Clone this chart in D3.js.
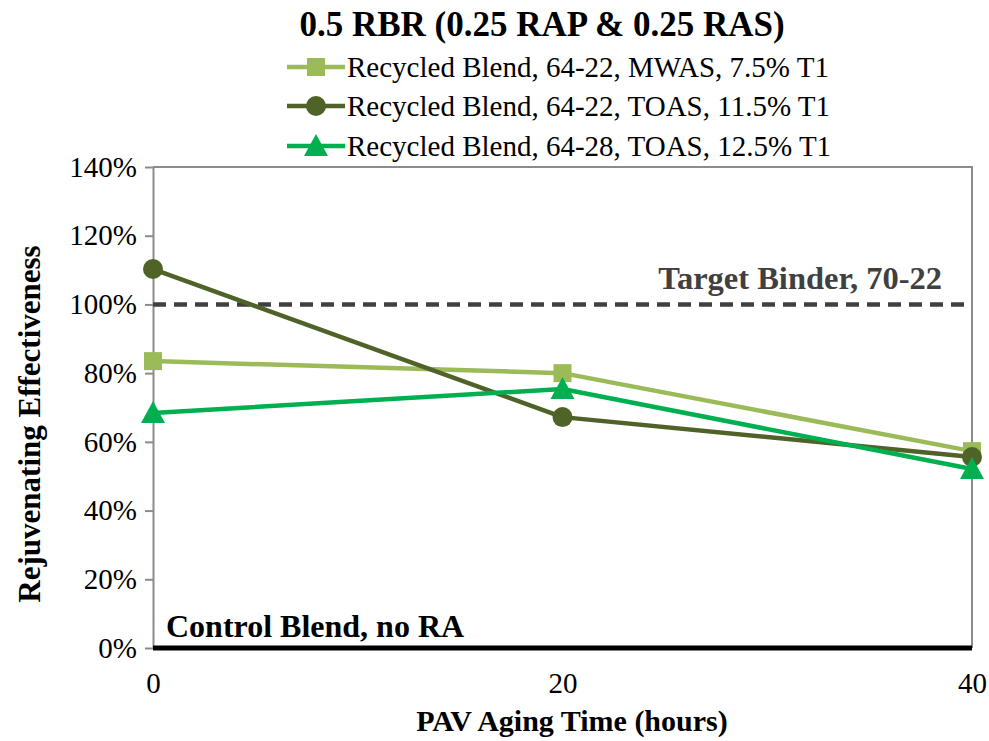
<!DOCTYPE html>
<html>
<head>
<meta charset="utf-8">
<script src="https://cdn.jsdelivr.net/npm/d3@7"></script>
<style>
  body { margin: 0; background: #fff; }
  svg { font-family: "Liberation Serif", "Times New Roman", serif; }
</style>
</head>
<body>
<svg id="chart" width="989" height="741"></svg>
<script>
// Aging time (hours) on the x axis
const agingHours = [0, 20, 40];
// Rejuvenating effectiveness (%) per blend
const mwas6422 = [83.5, 80.0, 57.3];
const toas6422 = [110.3, 67.2, 55.6];
const toas6428 = [68.4, 75.4, 52.1];
const seriesNames = [
  "Recycled Blend, 64-22, MWAS, 7.5% T1",
  "Recycled Blend, 64-22, TOAS, 11.5% T1",
  "Recycled Blend, 64-28, TOAS, 12.5% T1"
];
const seriesColors = ["#9BBB59", "#4F6228", "#00B050"];
const seriesMarkers = ["square", "circle", "triangle"];
const yTicks = [0, 20, 40, 60, 80, 100, 120, 140];
const xTicks = [0, 20, 40];
const targetValue = 100;
const controlValue = 0;

const svg = d3.select("#chart");
const m = { left: 153, right: 972, top: 167, bottom: 648 };

const x = d3.scaleLinear().domain([0, 40]).range([m.left, m.right]);
const y = d3.scaleLinear().domain([0, 140]).range([m.bottom, m.top]);

// Plot frame: gray top and right edges
svg.append("path")
  .attr("d", `M${m.left},${m.top}H${m.right}V${m.bottom}`)
  .attr("fill", "none").attr("stroke", "#8c8c8c").attr("stroke-width", 2);

// Y axis with outward ticks
const yAxis = svg.append("g").attr("transform", `translate(${m.left},0)`)
  .call(d3.axisLeft(y).tickValues(yTicks).tickSize(8).tickSizeOuter(0).tickPadding(8)
    .tickFormat(d => d + "%"));
yAxis.attr("font-family", null).attr("font-size", null);
yAxis.select(".domain").attr("stroke", "#8c8c8c").attr("stroke-width", 2);
yAxis.selectAll(".tick line").attr("stroke", "#8c8c8c").attr("stroke-width", 2);
yAxis.selectAll(".tick text").style("font-size", "29px").attr("fill", "#000")
  .style("font-family", "Liberation Serif");

// X axis labels (no tick marks)
const xAxis = svg.append("g").attr("transform", `translate(0,${m.bottom})`)
  .call(d3.axisBottom(x).tickValues(xTicks).tickSize(0).tickPadding(24));
xAxis.attr("font-family", null).attr("font-size", null);
xAxis.select(".domain").remove();
xAxis.selectAll(".tick text").style("font-size", "29px").attr("fill", "#000")
  .style("font-family", "Liberation Serif");

// Control blend reference line at 0%
svg.append("line")
  .attr("x1", m.left).attr("x2", m.right)
  .attr("y1", y(controlValue)).attr("y2", y(controlValue))
  .attr("stroke", "#000").attr("stroke-width", 5);
svg.append("text").attr("x", 166).attr("y", y(controlValue) - 11)
  .style("font-size", "32px").attr("font-weight", "bold").attr("fill", "#000")
  .text("Control Blend, no RA");

// Target binder dashed reference line at 100%
svg.append("line")
  .attr("x1", m.left).attr("x2", m.right)
  .attr("y1", y(targetValue)).attr("y2", y(targetValue))
  .attr("stroke", "#404040").attr("stroke-width", 4.5)
  .attr("stroke-dasharray", "13,8");
svg.append("text").attr("x", 942).attr("y", y(targetValue) - 15)
  .attr("text-anchor", "end")
  .style("font-size", "32.5px").attr("font-weight", "bold").attr("fill", "#404040")
  .text("Target Binder, 70-22");

function drawMarker(g, type, cx, cy, color) {
  if (type === "square") {
    g.append("rect").attr("x", cx - 9).attr("y", cy - 9).attr("width", 18).attr("height", 18)
      .attr("fill", color);
  } else if (type === "circle") {
    g.append("circle").attr("cx", cx).attr("cy", cy).attr("r", 10).attr("fill", color);
  } else {
    g.append("path")
      .attr("d", `M${cx},${cy - 12}L${cx + 12},${cy + 10}L${cx - 12},${cy + 10}Z`)
      .attr("fill", color);
  }
}

const allSeries = [mwas6422, toas6422, toas6428];
const line = d3.line().x((d, i) => x(agingHours[i])).y(d => y(d));

allSeries.forEach((vals, si) => {
  const g = svg.append("g");
  g.append("path").datum(vals).attr("d", line)
    .attr("fill", "none").attr("stroke", seriesColors[si]).attr("stroke-width", 4.5)
    .attr("stroke-linejoin", "round");
  vals.forEach((v, i) => drawMarker(g, seriesMarkers[si], x(agingHours[i]), y(v), seriesColors[si]));
});

// Title
svg.append("text").attr("x", 542).attr("y", 36).attr("text-anchor", "middle")
  .style("font-size", "35px").attr("font-weight", "bold").attr("fill", "#000")
  .text("0.5 RBR (0.25 RAP & 0.25 RAS)");

// Legend
const legendY = [67, 106, 146];
seriesNames.forEach((name, i) => {
  const g = svg.append("g");
  g.append("line").attr("x1", 287).attr("x2", 345).attr("y1", legendY[i]).attr("y2", legendY[i])
    .attr("stroke", seriesColors[i]).attr("stroke-width", 4.5);
  drawMarker(g, seriesMarkers[i], 316, legendY[i], seriesColors[i]);
  g.append("text").attr("x", 347).attr("y", legendY[i] + 10)
    .style("font-size", "29px").attr("fill", "#000").text(name);
});

// Axis titles
svg.append("text").attr("x", 572).attr("y", 731).attr("text-anchor", "middle")
  .style("font-size", "30px").attr("font-weight", "bold").text("PAV Aging Time (hours)");
svg.append("text").attr("transform", "translate(40,424) rotate(-90)")
  .attr("text-anchor", "middle")
  .style("font-size", "31px").attr("font-weight", "bold").text("Rejuvenating Effectiveness");
</script>
</body>
</html>
